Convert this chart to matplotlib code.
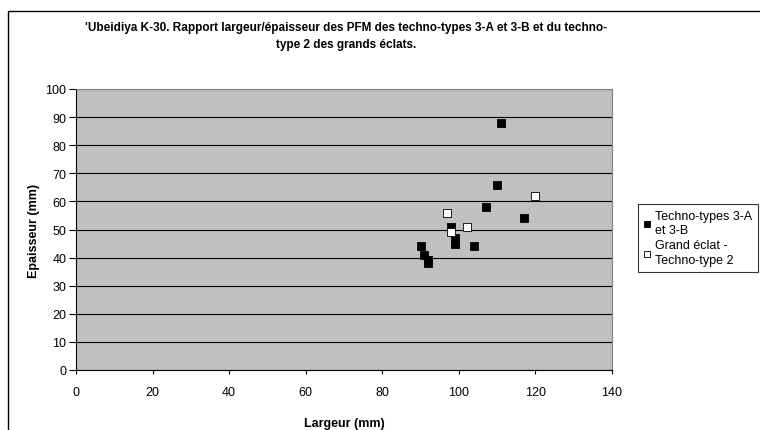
import matplotlib
matplotlib.use("Agg")
import matplotlib.pyplot as plt
from matplotlib.patches import Rectangle

plt.rcParams['font.family'] = ['Liberation Sans', 'DejaVu Sans']

# Techno-types 3-A et 3-B
largeur_3ab = [111, 110, 107, 117, 98, 99, 99, 104, 90, 91, 92, 92]
epaisseur_3ab = [88, 66, 58, 54, 51, 47, 45, 44, 44, 41, 39, 38]

# Grand eclat - Techno-type 2
largeur_t2 = [120, 97, 102, 98]
epaisseur_t2 = [62, 56, 51, 49]

titre = "'Ubeidiya K-30. Rapport largeur/épaisseur des PFM des techno-types 3-A et 3-B et du techno-\ntype 2 des grands éclats."

fig = plt.figure(figsize=(7.6, 4.31), dpi=100)
ax = fig.add_axes([76 / 760, 1 - 371 / 431, 536 / 760, 281 / 431])

# outer chart frame
fig.patches.append(Rectangle((8 / 760, -0.1), 1.2, 1 - 12 / 431 + 0.1,
                             transform=fig.transFigure, fill=False,
                             edgecolor='black', linewidth=1.0))

ax.set_facecolor('#c0c0c0')
ax.set_xlim(0, 140)
ax.set_ylim(0, 100)
ax.set_xticks(range(0, 141, 20))
ax.set_yticks(range(0, 101, 10))
ax.grid(axis='y', color='black', linewidth=0.8)
ax.set_axisbelow(True)

ax.scatter(largeur_3ab, epaisseur_3ab, marker='s', s=34, c='black',
           edgecolors='black', linewidths=0.6, label='Techno-types 3-A\net 3-B', zorder=3)
ax.scatter(largeur_t2, epaisseur_t2, marker='s', s=34, c='white',
           edgecolors='black', linewidths=0.6, label='Grand éclat -\nTechno-type 2', zorder=3)

for side in ['top', 'right']:
    ax.spines[side].set_color('#808080')
for side in ['left', 'bottom']:
    ax.spines[side].set_color('black')

ax.tick_params(direction='out', width=0.8, labelsize=9, colors='black')
ax.tick_params(axis='x', length=3, pad=8.5)
ax.tick_params(axis='y', length=5, pad=2)
ax.set_xlabel('Largeur (mm)', fontsize=9, fontweight='bold', labelpad=14)
ax.set_ylabel('Epaisseur (mm)', fontsize=9, fontweight='bold', labelpad=4)

fig.text(346 / 760, 1 - 36.5 / 431, titre, ha='center', va='center',
         fontsize=8.5, fontweight='bold', linespacing=1.45)

leg = fig.legend(loc='upper left', bbox_to_anchor=(638 / 760, 1 - 205 / 431),
                 fontsize=9, frameon=True, fancybox=False, edgecolor='black',
                 handlelength=0.6, handletextpad=0.3, borderpad=0.45,
                 labelspacing=0.25, markerscale=0.75, borderaxespad=0)
leg.get_frame().set_linewidth(0.8)
for t in leg.get_texts():
    t.set_linespacing(1.3)

fig.savefig('out.png', dpi=100)
